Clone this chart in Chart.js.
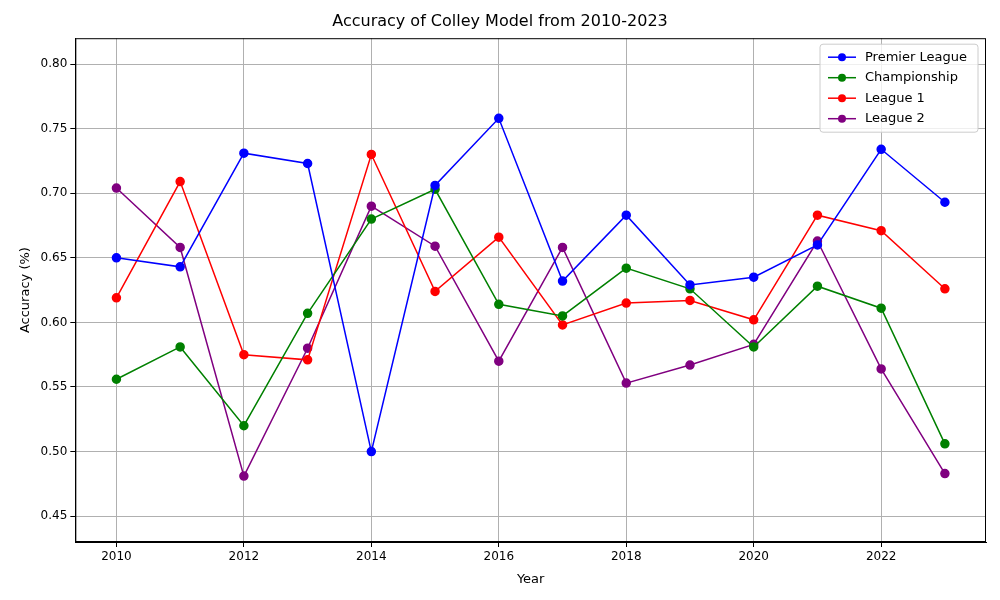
<!DOCTYPE html>
<html>
<head>
<meta charset="UTF-8" />
<script src="https://cdn.jsdelivr.net/npm/chart.js"></script>
<style>
  body { margin: 0; background: #fff; }
  #wrap { width: 1000px; height: 600px; }
</style>
</head>
<body>
<div id="wrap"><canvas id="chart"></canvas></div>
<script>
const years = [2010, 2011, 2012, 2013, 2014, 2015, 2016, 2017, 2018, 2019, 2020, 2021, 2022, 2023];
const premier = [0.650, 0.643, 0.731, 0.723, 0.500, 0.706, 0.758, 0.632, 0.683, 0.629, 0.635, 0.660, 0.734, 0.693];
const championship = [0.556, 0.581, 0.520, 0.607, 0.680, 0.703, 0.614, 0.605, 0.642, 0.626, 0.581, 0.628, 0.611, 0.506];
const league1 = [0.619, 0.709, 0.575, 0.571, 0.730, 0.624, 0.666, 0.598, 0.615, 0.617, 0.602, 0.683, 0.671, 0.626];
const league2 = [0.704, 0.658, 0.481, 0.580, 0.690, 0.659, 0.570, 0.658, 0.553, 0.567, 0.583, 0.663, 0.564, 0.483];
const xTicks = [2010, 2012, 2014, 2016, 2018, 2020, 2022];
const yTicks = [0.45, 0.50, 0.55, 0.60, 0.65, 0.70, 0.75, 0.80];

const font = "'DejaVu Sans', sans-serif";
Chart.defaults.font.family = font;
Chart.defaults.color = '#000';

function ds(label, data, color) {
  return {
    label, data: years.map((y, i) => ({ x: y, y: data[i] })),
    borderColor: color, backgroundColor: color,
    borderWidth: 1.5, pointRadius: 4, pointHoverRadius: 4, tension: 0
  };
}

// legend box in the top right corner of the plot, plus the full frame
const innerLegend = {
  id: 'innerLegend',
  afterDraw(chart) {
    const ctx = chart.ctx, a = chart.chartArea;
    ctx.save();
    ctx.strokeStyle = '#000';
    ctx.lineWidth = 1;
    ctx.strokeRect(a.left + 0.5, a.top + 0.5, a.right - a.left - 1, a.bottom - a.top - 1);
    const w = 158, h = 88, x = a.right - w - 8, y = a.top + 6;
    ctx.fillStyle = 'rgba(255,255,255,0.8)';
    ctx.strokeStyle = '#ccc';
    ctx.beginPath();
    ctx.roundRect(x, y, w, h, 3);
    ctx.fill(); ctx.stroke();
    ctx.font = '13px ' + font;
    ctx.textBaseline = 'middle';
    chart.data.datasets.forEach((d, i) => {
      const ly = y + 13 + i * 20.5;
      ctx.strokeStyle = d.borderColor; ctx.fillStyle = d.borderColor;
      ctx.lineWidth = 1.5;
      ctx.beginPath(); ctx.moveTo(x + 8, ly); ctx.lineTo(x + 36, ly); ctx.stroke();
      ctx.beginPath(); ctx.arc(x + 22, ly, 4, 0, Math.PI * 2); ctx.fill();
      ctx.fillStyle = '#000';
      ctx.fillText(d.label, x + 45, ly);
    });
    ctx.restore();
  }
};

new Chart(document.getElementById('chart'), {
  type: 'line',
  data: {
    datasets: [
      ds('Premier League', premier, '#0000ff'),
      ds('Championship', championship, '#008000'),
      ds('League 1', league1, '#ff0000'),
      ds('League 2', league2, '#800080')
    ]
  },
  options: {
    responsive: true, maintainAspectRatio: false, animation: false,
    layout: { padding: { left: 14, right: 14, top: 0, bottom: 9 } },
    plugins: {
      legend: { display: false },
      tooltip: { enabled: false },
      title: { display: true, text: 'Accuracy of Colley Model from 2010-2023', font: { size: 16, weight: 'normal' }, padding: { top: 12, bottom: 7 } }
    },
    scales: {
      x: {
        type: 'linear', min: 2009.355, max: 2023.645,
        afterBuildTicks: s => { s.ticks = xTicks.map(v => ({ value: v })); },
        ticks: { font: { size: 12 }, callback: v => String(v) },
        grid: { color: '#b0b0b0', tickLength: 5, tickColor: '#000' },
        border: { color: '#000' },
        title: { display: true, text: 'Year', font: { size: 13 } }
      },
      y: {
        min: 0.43, max: 0.82,
        afterBuildTicks: s => { s.ticks = yTicks.map(v => ({ value: v })); },
        ticks: { font: { size: 12 }, callback: v => v.toFixed(2) },
        grid: { color: '#b0b0b0', tickLength: 5, tickColor: '#000' },
        border: { color: '#000' },
        title: { display: true, text: 'Accuracy (%)', font: { size: 13 } }
      }
    }
  },
  plugins: [innerLegend]
});
</script>
</body>
</html>
